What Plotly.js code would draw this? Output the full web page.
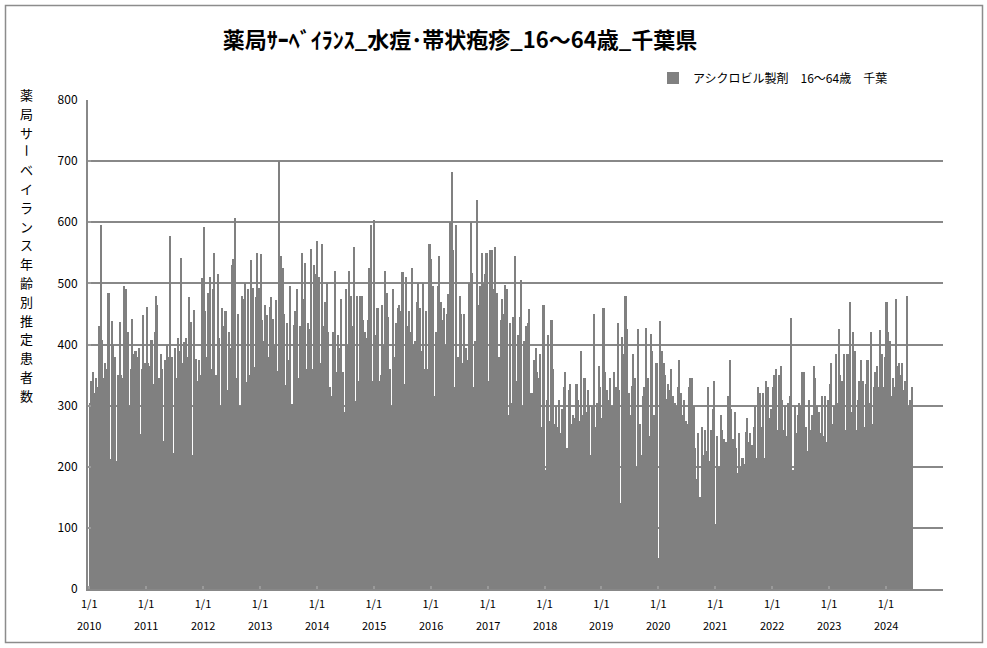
<!DOCTYPE html>
<html><head><meta charset="utf-8">
<script src="https://cdn.plot.ly/plotly-3.0.1.min.js"></script>
<style>html,body{margin:0;padding:0;background:#fff}#chart{width:987px;height:648px}</style>
</head><body><div id="chart"></div>
<script>
// ---- data (one per ~10-day slot: days 1, 11, 21 of each month) ----
const years = [2010,2011,2012,2013,2014,2015,2016,2017,2018,2019,2020,2021,2022,2023,2024];
const v2010 = [305,340,355,320,345,330,430,595,408,345,370,360,484,212,438,400,380,209,350,436,350,345,495,490,420,300,360,442,385,390,380,395,254,360,448,370];
const v2011 = [461,370,365,408,335,420,480,465,345,385,360,242,375,400,380,578,380,223,395,345,410,390,542,370,404,410,380,477,437,220,457,377,340,375,350,508];
const v2012 = [592,455,380,485,510,360,490,549,350,515,410,300,460,430,455,325,420,395,530,540,607,345,450,300,480,475,500,338,490,350,539,493,363,478,550,493];
const v2013 = [548,440,405,465,449,380,461,478,441,400,473,357,700,545,525,450,333,435,375,495,302,432,455,490,345,430,550,475,533,360,435,425,557,360,530,515];
const v2014 = [570,510,370,565,430,470,500,420,330,315,420,520,355,415,395,474,355,290,490,400,520,480,430,560,307,480,340,480,480,440,420,410,440,525,595,340];
const v2015 = [604,415,460,340,350,465,400,520,485,445,360,300,490,380,435,460,465,455,519,335,510,430,455,420,525,400,405,470,500,460,389,500,360,455,360,565];
const v2016 = [540,495,315,420,495,545,470,440,460,400,450,483,600,682,555,330,595,380,480,450,370,450,395,375,500,600,517,330,405,636,465,495,550,500,515,550];
const v2017 = [340,555,555,490,560,480,485,380,440,475,450,498,490,285,435,305,445,545,340,415,445,505,300,405,430,435,458,320,320,375,395,355,345,385,265,465];
const v2018 = [195,310,415,275,440,360,270,300,265,310,255,295,330,355,230,325,335,270,285,280,335,310,275,390,285,345,290,325,300,220,300,450,265,305,365,330];
const v2019 = [280,460,355,325,310,345,300,300,355,330,435,325,140,413,385,480,425,320,285,332,385,345,200,425,270,220,315,330,427,345,250,418,390,285,370,370];
const v2020 = [50,439,390,370,350,311,335,325,360,315,305,300,330,375,320,285,310,275,270,330,345,345,300,230,180,255,150,265,220,260,225,330,210,260,295,340];
const v2021 = [107,250,200,285,260,245,240,240,315,375,295,245,290,230,190,256,200,215,205,257,280,240,255,235,265,300,215,330,320,265,320,215,340,330,280,295];
const v2022 = [330,350,360,260,350,365,310,260,300,250,305,315,443,195,300,255,285,305,300,355,355,265,225,310,260,285,365,345,300,290,255,315,250,315,240,310];
const v2023 = [335,370,270,300,385,305,425,350,340,385,260,385,385,470,290,420,390,260,310,340,375,340,265,335,375,305,420,270,330,355,365,330,424,385,330,380];
const v2024 = [470,420,405,315,345,330,475,365,370,350,370,325,340,480,300,310,330];

const seriesName = 'アシクロビル製剤　16～64歳　千葉';
const chartTitle = '薬局ｻｰﾍﾞｲﾗﾝｽ_水痘･帯状疱疹_16～64歳_千葉県';
const yAxisTitle = '薬局サーベイランス年齢別推定患者数';
const xTickLabel = '1/1';
const yTicks = [0,100,200,300,400,500,600,700,800];
const slotDays = [1, 11, 21];

// ---- build trace from arrays ----
const yearly = [v2010,v2011,v2012,v2013,v2014,v2015,v2016,v2017,v2018,v2019,v2020,v2021,v2022,v2023,v2024];
const xs = [], ys = [], ws = [];
yearly.forEach((vals, i) => {
  const yr = years[i];
  vals.forEach((v, k) => {
    const m = Math.floor(k / 3);
    const start = Date.UTC(yr, m, slotDays[k % 3]);
    const nk = k + 1;
    const end = (nk % 3 === 0) ? Date.UTC(yr, m + 1, 1) : Date.UTC(yr, m, slotDays[nk % 3]);
    xs.push(new Date(start).toISOString().slice(0, 10));
    ys.push(v);
    ws.push(end - start);
  });
});

const FONT = '"Noto Sans CJK JP", "Noto Sans", sans-serif';
const L = 88, R = 44, T = 100, B = 59, W = 987, H = 648;
const pw = W - L - R, ph = H - T - B;
const px2x = p => (p - L) / pw;
const py2y = p => (H - B - p) / ph;

const trace = {
  type: 'bar', x: xs, y: ys, width: ws, offset: 0,
  marker: {color: '#808080', line: {width: 0}},
  name: seriesName, showlegend: true, hoverinfo: 'x+y'
};

// vertical (stacked) y-axis title, one character per line
const chars = Array.from(yAxisTitle);
const firstCharY = 94.5, charStep = 18.8;
const annotations = chars.map((c, i) => ({
  text: c, x: px2x(27), y: py2y(firstCharY + i * charStep),
  xref: 'paper', yref: 'paper', xanchor: 'center', yanchor: 'middle',
  textangle: c === 'ー' ? 90 : 0,
  showarrow: false, font: {family: FONT, size: 13, color: '#000'}
}));

years.forEach(yy => annotations.push({
  text: String(yy), x: yy + '-01-01', xref: 'x', y: 0, yref: 'paper',
  xanchor: 'center', yanchor: 'middle', yshift: -36, showarrow: false,
  font: {family: FONT, size: 11, color: '#000'}
}));

const layout = {
  width: W, height: H,
  margin: {l: L, r: R, t: T, b: B, pad: 0},
  paper_bgcolor: '#fff', plot_bgcolor: '#fff',
  font: {family: FONT, size: 12, color: '#000'},
  bargap: 0,
  title: {text: chartTitle, font: {family: FONT, size: 22, weight: 700, color: '#000'},
    x: px2x(460), xref: 'paper', xanchor: 'center', y: 1 - 40 / H, yref: 'container', yanchor: 'middle'},
  xaxis: {
    type: 'date', range: ['2009-12-24', '2025-01-01'],
    tickmode: 'array',
    tickvals: years.map(yy => yy + '-01-01').concat(['2025-01-01']),
    ticktext: years.map(() => xTickLabel).concat(['']),
    ticks: 'inside', ticklen: 3, tickwidth: 2, tickcolor: '#9a9a9a',
    showline: true, linecolor: '#888', linewidth: 2,
    showgrid: false, zeroline: false,
    tickfont: {family: FONT, size: 11, color: '#000'},
    ticklabelstandoff: 4
  },
  yaxis: {
    range: [0, 800], tickmode: 'array', tickvals: yTicks, ticktext: yTicks.map(String),
    showgrid: true, gridcolor: '#888', gridwidth: 2,
    showline: true, linecolor: '#888', linewidth: 2,
    ticks: 'inside', ticklen: 3, tickwidth: 2, tickcolor: '#9a9a9a',
    zeroline: false,
    tickfont: {family: FONT, size: 12, color: '#000'},
    ticklabelstandoff: 6
  },
  legend: {x: px2x(653), xanchor: 'left', y: 1 + 22 / ph, yanchor: 'middle',
    orientation: 'h', font: {family: FONT, size: 12, color: '#000'}, bgcolor: 'rgba(0,0,0,0)'},
  annotations: annotations,
  shapes: [{type: 'rect', xref: 'paper', yref: 'paper', layer: 'above',
    x0: px2x(5.5), x1: px2x(982.5), y0: py2y(642.5), y1: py2y(5.5),
    line: {color: '#8c8c8c', width: 1.5}, fillcolor: 'rgba(0,0,0,0)'}]
};

Plotly.newPlot('chart', [trace], layout, {displayModeBar: false, responsive: false});
</script></body></html>
